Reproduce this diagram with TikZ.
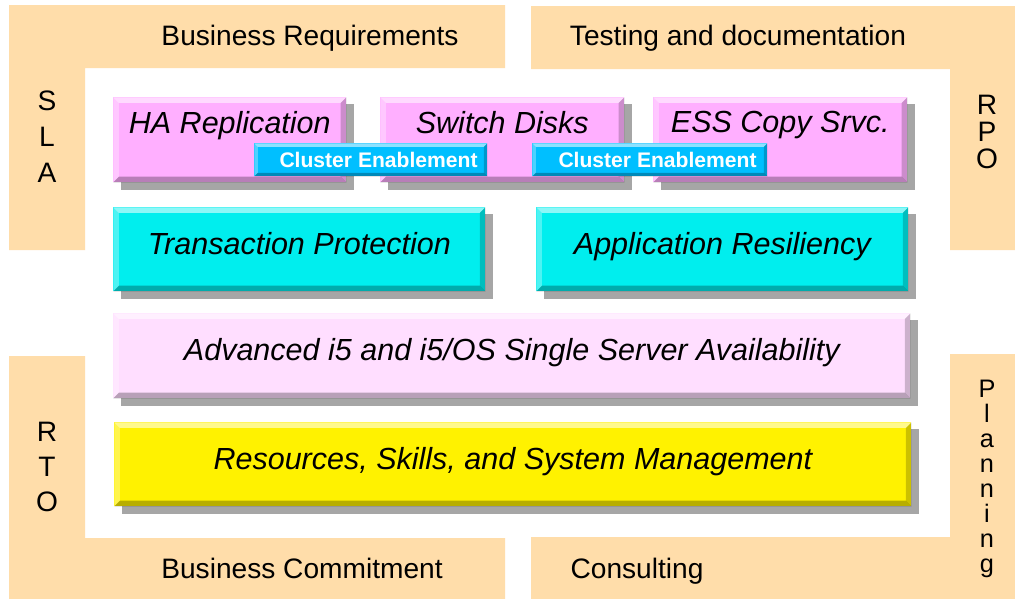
\documentclass[tikz,border=0pt]{standalone}
\usepackage{fontspec}
\setmainfont{Liberation Sans}
\usetikzlibrary{shadows}

\definecolor{peach}{RGB}{255,221,170}
\definecolor{hapink}{RGB}{255,175,255}
\definecolor{lightpink}{RGB}{255,222,255}
\definecolor{tealbox}{RGB}{0,238,238}
\definecolor{clusterblue}{RGB}{0,191,255}
\definecolor{shadowgray}{RGB}{166,166,166}

\tikzset{
  bevel/.style={path picture={
    \fill[white, opacity=.55] (path picture bounding box.north west) -- (path picture bounding box.north east)
      -- ([xshift=-#1, yshift=-#1]path picture bounding box.north east) -- ([xshift=#1, yshift=-#1]path picture bounding box.north west) -- cycle;
    \fill[white, opacity=.3] (path picture bounding box.north west) -- (path picture bounding box.south west)
      -- ([xshift=#1, yshift=#1]path picture bounding box.south west) -- ([xshift=#1, yshift=-#1]path picture bounding box.north west) -- cycle;
    \fill[black, opacity=.28] (path picture bounding box.south west) -- (path picture bounding box.south east)
      -- ([xshift=-#1, yshift=#1]path picture bounding box.south east) -- ([xshift=#1, yshift=#1]path picture bounding box.south west) -- cycle;
    \fill[black, opacity=.2] (path picture bounding box.north east) -- (path picture bounding box.south east)
      -- ([xshift=-#1, yshift=#1]path picture bounding box.south east) -- ([xshift=-#1, yshift=-#1]path picture bounding box.north east) -- cycle;
  }},
  block/.style={rectangle, inner sep=0pt, anchor=north west, fill=#1, bevel=4pt,
    font=\itshape\fontsize{21.7}{24}\selectfont, text depth=9pt,
    drop shadow={shadow xshift=0.2cm, shadow yshift=-0.18cm, fill=shadowgray, opacity=1}},
  uptext/.style={text depth=25pt},
  cluster/.style={rectangle, inner sep=0pt, anchor=north west, fill=clusterblue, bevel=2.5pt,
    minimum width=#1, minimum height=0.825cm, text=white,
    font=\bfseries\fontsize{15}{17}\selectfont},
  corner/.style={fill=peach},
  side/.style={font=\fontsize{20}{23}\selectfont, anchor=base},
  vside/.style={font=\fontsize{20}{#1}\selectfont, align=center}
}

\begin{document}
\begin{tikzpicture}[x=0.025cm, y=-0.025cm]
  \useasboundingbox[fill=white] (0,0) rectangle (1015,599);

  % peach frame
  \fill[corner] (9,5) -- (505,5) -- (505,68) -- (85,68) -- (85,250) -- (9,250) -- cycle;
  \fill[corner] (531,6) -- (1015,6) -- (1015,250) -- (950,250) -- (950,69) -- (531,69) -- cycle;
  \fill[corner] (9,356) -- (85,356) -- (85,538) -- (505,538) -- (505,599) -- (9,599) -- cycle;
  \fill[corner] (950,354) -- (1015,354) -- (1015,599) -- (531,599) -- (531,537) -- (950,537) -- cycle;

  \node[side] (bizreq) at (310,45) {Business Requirements};
  \node[side] (testdoc) at (738,45) {Testing and documentation};
  \node[side] (bizcom) at (302,578) {Business Commitment};
  \node[side] (consult) at (637,578) {Consulting};
  \node[vside=25.5pt] (sla) at (47,137) {S\\L\\A};
  \node[vside=19pt] (rpo) at (987,132) {R\\P\\O};
  \node[vside=25pt] (rto) at (47,467) {R\\T\\O};
  \node[vside=17.8pt, font=\fontsize{18}{17.8}\selectfont] (plan) at (987,479) {P\\l\\a\\n\\n\\i\\n\\g};

  % availability stack
  \node[block=hapink, uptext, minimum width=5.825cm, minimum height=2.125cm] (harep) at (113,97) {HA Replication};
  \node[block=hapink, uptext, minimum width=6.1cm, minimum height=2.125cm] (swdisk) at (380,97) {Switch Disks};
  \node[block=hapink, uptext, minimum width=6.35cm, minimum height=2.125cm] (esscopy) at (653,97) {ESS Copy Srvc.};
  \node[cluster=5.825cm] (clust1) at (254,143) {\hspace*{11pt}Cluster Enablement};
  \node[cluster=5.875cm] (clust2) at (532,143) {\hspace*{11pt}Cluster Enablement};

  \node[block=tealbox, minimum width=9.3cm, minimum height=2.1cm] (txprot) at (113,207) {Transaction Protection};
  \node[block=tealbox, minimum width=9.3cm, minimum height=2.1cm] (appres) at (536,207) {Application Resiliency};
  \node[block=lightpink, minimum width=19.925cm, minimum height=2.125cm] (single) at (113,313) {Advanced i5 and i5/OS Single Server Availability};
  \node[block=yellow, minimum width=19.925cm, minimum height=2.1cm] (skills) at (114,422) {Resources, Skills, and System Management};
\end{tikzpicture}
\end{document}
